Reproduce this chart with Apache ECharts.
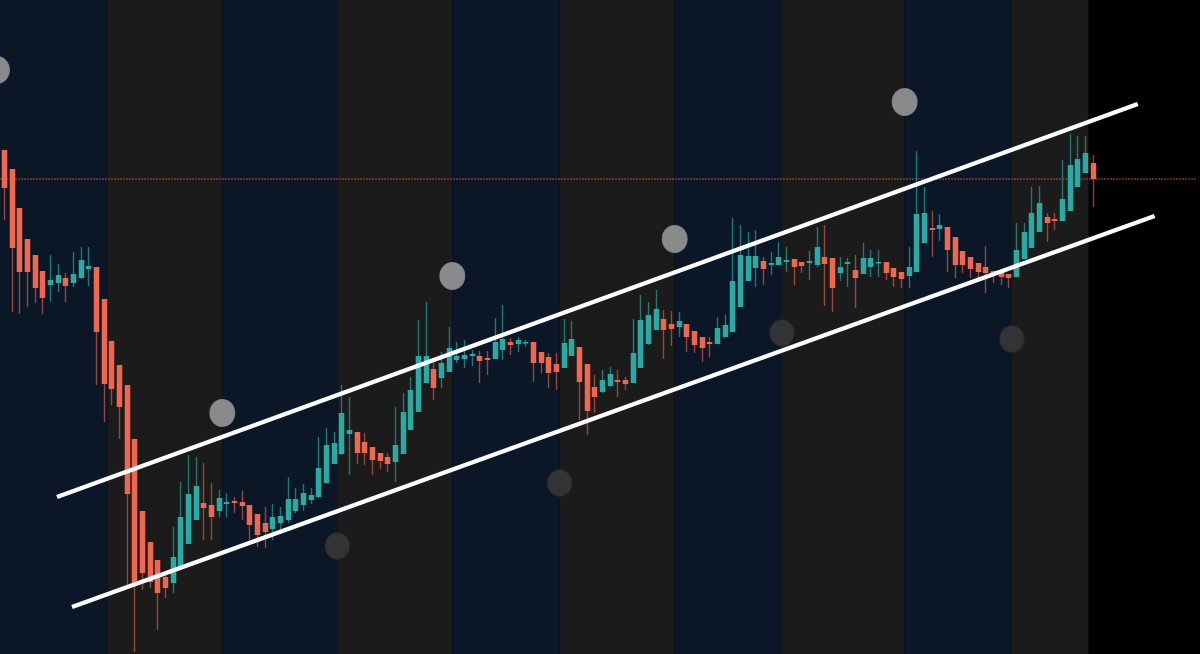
<!DOCTYPE html>
<html><head><meta charset="utf-8">
<script src="https://cdn.jsdelivr.net/npm/echarts@6/dist/echarts.min.js"></script>
<style>html,body{margin:0;padding:0;background:#000;overflow:hidden}#c{width:1200px;height:654px;}</style>
</head><body><div id="c"></div>
<script>
// ---- data (price units are arbitrary) ----
const opens = [
  504,485,446,415,399,383,369,371,376,371,
  376,385,387,355,313,289,269,215,143,112,
  94,77,71,87,110,134,151,149,143,150,
  153,152,149,140,131,125,131,134,143,149,
  154,157,171,190,200,220,222,212,207,201,
  197,192,200,224,242,271,285,276,282,294,
  295,298,298,296,295,304,312,310,311,312,
  302,297,290,286,298,307,290,267,262,268,
  274,274,271,286,310,324,335,330,327,330,
  323,317,312,310,317,322,347,373,386,393,
  389,389,392,395,392,391,389,397,396,381,
  390,384,380,387,391,392,386,382,378,382,
  411,426,425,427,417,403,397,391,387,383,
  382,380,377,395,406,422,437,435,433,443,
  467,481,491
];
const closes = [
  466,406,382,382,366,356,374,379,368,380,
  394,388,322,270,265,247,160,71,81,72,
  61,66,97,137,160,168,146,137,156,152,
  151,148,129,119,122,137,138,155,155,161,
  159,186,209,211,241,224,201,201,194,193,
  190,209,242,264,298,298,266,291,306,298,
  299,300,293,294,312,315,309,314,312,291,
  291,281,282,311,315,272,243,257,274,280,
  272,270,301,334,339,345,324,325,333,317,
  309,306,310,326,329,373,399,398,398,385,
  391,397,394,387,388,393,407,390,366,387,
  392,376,396,396,392,381,377,375,387,440,
  441,424,429,404,389,389,385,382,381,379,
  377,376,404,422,441,451,431,433,455,489,
  495,501,475
];
const lows = [
  434,342,340,347,351,340,352,362,352,367,
  375,368,269,232,249,215,69,2,64,66,
  24,56,61,87,110,134,114,114,137,137,
  141,134,114,107,106,114,124,131,141,143,
  150,156,170,190,199,179,190,189,179,185,
  182,172,200,224,242,271,254,266,282,291,
  286,288,271,279,295,294,299,302,307,272,
  281,266,264,286,298,234,219,241,261,267,
  257,264,271,286,309,324,295,308,317,302,
  301,292,297,310,317,322,347,373,367,369,
  379,389,382,369,381,374,387,348,342,373,
  367,346,380,377,377,374,367,366,366,382,
  411,397,413,382,376,381,376,376,361,371,
  369,366,377,395,406,422,412,424,433,443,
  467,481,447
];
const highs = [
  504,485,446,415,399,383,399,390,381,402,
  407,407,387,355,313,289,269,215,143,112,
  94,81,127,172,199,197,191,171,164,161,
  157,163,149,140,147,150,147,177,166,170,
  166,217,226,222,269,257,222,221,207,201,
  201,247,261,277,334,352,291,302,327,312,
  314,304,303,303,336,349,316,317,314,312,
  302,301,301,335,333,307,290,279,284,287,
  284,277,335,359,352,364,344,343,342,330,
  323,317,317,337,339,436,429,422,424,397,
  402,412,407,395,392,403,427,429,396,397,
  396,399,411,404,404,392,386,382,407,503,
  467,443,440,427,417,403,397,391,408,383,
  382,380,431,431,467,468,441,441,494,520,
  518,518,499
];
const totalSlots = 156;                       // bar slots incl. empty space on the right
const slots = Array.from({length: totalSlots}, (_, i) => 'bar ' + i);
const sessionBreaks = [0, 14, 29, 44, 59, 73, 88, 102, 118, 132, 142];
const sessionKinds  = ['navy','gray','navy','gray','navy','gray','navy','gray','navy','gray'];
const pivotHighs = [[-0.4, 584], [29, 241], [59, 378], [88, 415], [118, 552]];
const pivotLows  = [[44, 108], [73, 171], [102, 321], [132, 315]];
const channelUpper = [[7.43, 157], [148.4, 550]];
const channelLower = [[9.39, 47], [150.6, 438]];
const priceRange = [0, 654];

// ---- chart ----
const UP = '#2aaaa5', DOWN = '#f06750';
const UP_WICK = 'rgba(42,170,165,0.65)', DOWN_WICK = 'rgba(240,103,80,0.6)';
const bandColors = {navy: '#0b1727', gray: '#1b1b1c'};

const candleRows = opens.map((o, i) => [i, o, closes[i], lows[i], highs[i]]);
const bandAreas = sessionKinds.map((k, j) => [
  {xAxis: sessionBreaks[j], itemStyle: {color: bandColors[k]}},
  {xAxis: sessionBreaks[j + 1]}
]);
bandAreas.push([{xAxis: sessionBreaks[sessionBreaks.length - 1], itemStyle: {color: '#000'}}, {xAxis: totalSlots}]);
const lastClose = closes[closes.length - 1];

const chart = echarts.init(document.getElementById('c'), null, {renderer: 'canvas'});
chart.setOption({
  backgroundColor: '#000',
  animation: false,
  grid: {left: 0, right: 4, top: 0, bottom: 0},
  xAxis: [
    {type: 'category', data: slots, boundaryGap: true, show: false},
    {type: 'value', min: 0, max: totalSlots, show: false}
  ],
  yAxis: [{type: 'value', min: priceRange[0], max: priceRange[1], show: false}],
  series: [
    {
      type: 'line', xAxisIndex: 1, data: [], silent: true, z: 0,
      markArea: {silent: true, data: bandAreas, label: {show: false}}
    },
    {
      type: 'line', xAxisIndex: 1, z: 1, silent: true, symbol: 'none',
      data: [[0, lastClose], [totalSlots, lastClose]],
      lineStyle: {color: '#c9553f', width: 1, type: [2, 1], opacity: 0.9}
    },
    {
      type: 'custom', xAxisIndex: 0, z: 2, silent: true,
      data: candleRows,
      encode: {x: 0, y: [1, 2, 3, 4]},
      renderItem: function (params, api) {
        const i = api.value(0), o = api.value(1), c = api.value(2), l = api.value(3), h = api.value(4);
        const pO = api.coord([i, o]), pC = api.coord([i, c]);
        const pL = api.coord([i, l]), pH = api.coord([i, h]);
        const w = api.size([1, 0])[0] * 0.72;
        const up = c >= o;
        const top = Math.min(pO[1], pC[1]);
        const hgt = Math.max(Math.abs(pO[1] - pC[1]), 1.5);
        const cx = Math.round(pO[0]) + 0.5;
        return {
          type: 'group',
          children: [
            {type: 'line', shape: {x1: cx, y1: pH[1], x2: cx, y2: pL[1]},
             style: {stroke: up ? UP_WICK : DOWN_WICK, lineWidth: 1.4}},
            {type: 'rect', shape: {x: cx - w / 2, y: top, width: w, height: hgt},
             style: {fill: up ? UP : DOWN}}
          ]
        };
      }
    },
    {
      type: 'line', xAxisIndex: 1, z: 3, silent: true, symbol: 'none',
      data: channelUpper, lineStyle: {color: '#ffffff', width: 4.5, cap: 'butt'}
    },
    {
      type: 'line', xAxisIndex: 1, z: 3, silent: true, symbol: 'none',
      data: channelLower, lineStyle: {color: '#ffffff', width: 4.5, cap: 'butt'}
    },
    {
      type: 'scatter', xAxisIndex: 1, z: 4, silent: true, clip: false,
      data: pivotHighs, symbol: 'circle', symbolSize: [25, 27],
      itemStyle: {color: '#a6a6a8', borderColor: '#8e8e90', borderWidth: 1}
    },
    {
      type: 'scatter', xAxisIndex: 1, z: 4, silent: true, clip: false,
      data: pivotLows, symbol: 'circle', symbolSize: [25, 27],
      itemStyle: {color: '#3b3b3c', borderColor: '#222', borderWidth: 1}
    }
  ]
});
</script>
</body></html>
